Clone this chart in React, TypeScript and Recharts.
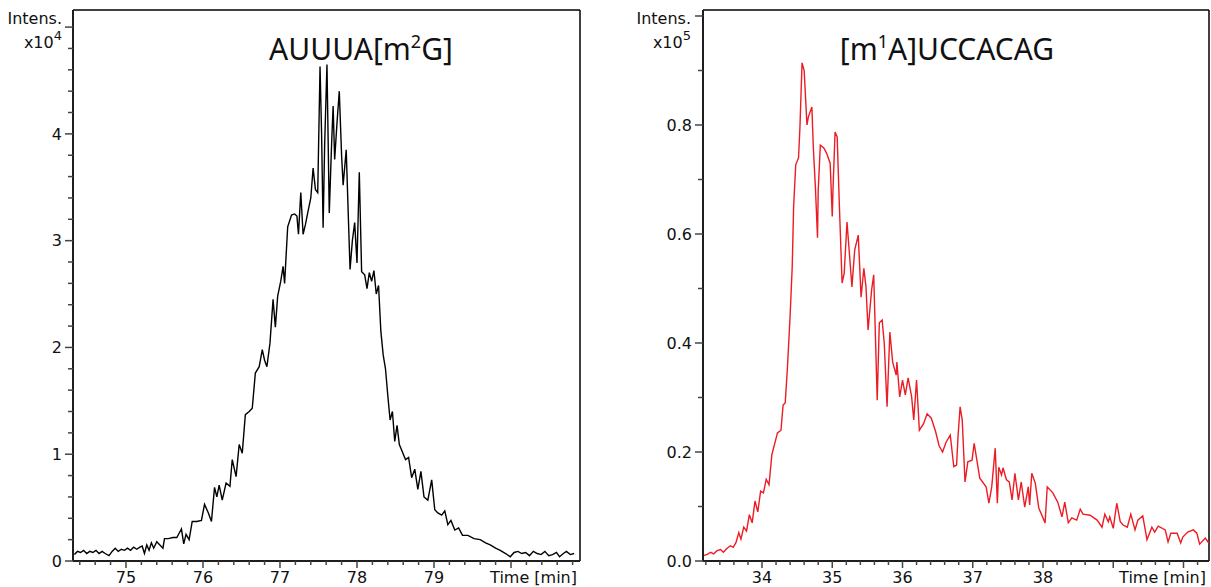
import React from 'react';
import { LineChart, Line, XAxis, YAxis, ReferenceLine } from 'recharts';

// time [min], intensity [x10^4]
const leftTrace: [number, number][] = [
  [74.33, 0.06], [74.37, 0.09], [74.41, 0.08], [74.45, 0.1], [74.49, 0.07], [74.53, 0.09], [74.57, 0.08],
  [74.61, 0.1], [74.65, 0.07], [74.69, 0.09], [74.73, 0.07], [74.78, 0.05], [74.82, 0.09], [74.86, 0.12],
  [74.9, 0.09], [74.94, 0.11], [74.98, 0.1], [75.02, 0.12], [75.06, 0.1], [75.1, 0.13], [75.14, 0.11],
  [75.18, 0.13], [75.21, 0.14], [75.24, 0.07], [75.27, 0.15], [75.3, 0.1], [75.33, 0.17], [75.36, 0.12],
  [75.4, 0.18], [75.44, 0.15], [75.48, 0.12], [75.5, 0.21], [75.55, 0.21], [75.61, 0.22], [75.66, 0.22],
  [75.69, 0.26], [75.72, 0.3], [75.75, 0.16], [75.78, 0.25], [75.82, 0.2], [75.86, 0.37], [75.92, 0.37],
  [75.98, 0.38], [76.02, 0.53], [76.07, 0.45], [76.11, 0.37], [76.15, 0.69], [76.18, 0.6], [76.21, 0.71],
  [76.25, 0.57], [76.3, 0.73], [76.35, 0.7], [76.38, 0.95], [76.43, 0.79], [76.47, 1.09], [76.51, 1.01],
  [76.55, 1.37], [76.6, 1.4], [76.64, 1.43], [76.68, 1.76], [76.73, 1.82], [76.77, 1.98], [76.8, 1.88],
  [76.83, 1.82], [76.87, 2.04], [76.91, 2.45], [76.94, 2.19], [76.97, 2.48], [77.01, 2.62], [77.04, 2.76],
  [77.06, 2.6], [77.1, 3.13], [77.15, 3.24], [77.19, 3.25], [77.22, 3.23], [77.24, 3.06], [77.27, 3.45],
  [77.3, 3.06], [77.33, 3.15], [77.36, 3.26], [77.4, 3.4], [77.43, 3.68], [77.46, 3.48], [77.49, 3.45],
  [77.52, 4.63], [77.54, 4.01], [77.56, 3.12], [77.58, 3.9], [77.61, 4.65], [77.64, 3.26], [77.67, 3.9],
  [77.69, 4.26], [77.71, 3.76], [77.74, 4.1], [77.77, 4.4], [77.8, 3.8], [77.82, 3.52], [77.86, 3.85],
  [77.89, 3.17], [77.91, 2.73], [77.94, 3.0], [77.97, 3.17], [78.0, 2.79], [78.03, 3.64], [78.06, 2.71],
  [78.1, 2.68], [78.13, 2.55], [78.16, 2.7], [78.19, 2.62], [78.22, 2.72], [78.25, 2.5], [78.28, 2.58],
  [78.31, 2.15], [78.34, 1.93], [78.37, 1.8], [78.4, 1.55], [78.43, 1.32], [78.46, 1.4], [78.49, 1.12],
  [78.52, 1.27], [78.55, 1.09], [78.59, 1.02], [78.63, 0.95], [78.67, 0.97], [78.71, 0.78], [78.75, 0.86],
  [78.79, 0.67], [78.83, 0.84], [78.87, 0.6], [78.92, 0.57], [78.97, 0.76], [79.01, 0.48], [79.05, 0.45],
  [79.1, 0.43], [79.14, 0.47], [79.18, 0.34], [79.22, 0.38], [79.27, 0.29], [79.32, 0.31], [79.37, 0.24],
  [79.44, 0.24], [79.52, 0.21], [79.6, 0.2], [79.67, 0.17], [79.73, 0.15], [79.8, 0.12], [79.86, 0.1],
  [79.93, 0.07], [79.99, 0.04], [80.04, 0.08], [80.09, 0.09], [80.14, 0.07], [80.19, 0.08], [80.24, 0.05],
  [80.29, 0.09], [80.34, 0.07], [80.39, 0.06], [80.44, 0.09], [80.49, 0.05], [80.54, 0.06], [80.59, 0.08],
  [80.63, 0.04], [80.68, 0.07], [80.72, 0.09], [80.77, 0.06], [80.82, 0.07],
];

// time [min], intensity [x10^5]
const rightTrace: [number, number][] = [
  [33.17, 0.01], [33.22, 0.012], [33.27, 0.016], [33.31, 0.013], [33.36, 0.019], [33.41, 0.021],
  [33.45, 0.016], [33.5, 0.023], [33.55, 0.028], [33.59, 0.025], [33.63, 0.034], [33.67, 0.052],
  [33.7, 0.04], [33.74, 0.062], [33.78, 0.055], [33.82, 0.085], [33.86, 0.07], [33.9, 0.11], [33.94, 0.09],
  [33.98, 0.128], [34.02, 0.125], [34.06, 0.15], [34.1, 0.14], [34.14, 0.195], [34.18, 0.215], [34.22, 0.235],
  [34.27, 0.24], [34.3, 0.286], [34.33, 0.29], [34.36, 0.35], [34.4, 0.45], [34.43, 0.54], [34.45, 0.65],
  [34.48, 0.727], [34.52, 0.74], [34.54, 0.796], [34.57, 0.914], [34.6, 0.9], [34.64, 0.8], [34.66, 0.815],
  [34.71, 0.833], [34.73, 0.76], [34.76, 0.686], [34.79, 0.593], [34.8, 0.68], [34.83, 0.763], [34.88, 0.758],
  [34.92, 0.748], [34.97, 0.73], [35.0, 0.632], [35.01, 0.68], [35.04, 0.787], [35.07, 0.778], [35.1, 0.657],
  [35.14, 0.51], [35.17, 0.528], [35.21, 0.622], [35.24, 0.571], [35.28, 0.503], [35.32, 0.571], [35.37, 0.598],
  [35.41, 0.484], [35.45, 0.537], [35.48, 0.503], [35.51, 0.424], [35.56, 0.497], [35.59, 0.525], [35.64, 0.295],
  [35.67, 0.437], [35.71, 0.442], [35.74, 0.4], [35.78, 0.283], [35.82, 0.42], [35.86, 0.365], [35.91, 0.341],
  [35.92, 0.365], [35.96, 0.301], [36.0, 0.332], [36.04, 0.305], [36.08, 0.336], [36.13, 0.301], [36.16, 0.259],
  [36.2, 0.332], [36.24, 0.24], [36.3, 0.252], [36.35, 0.27], [36.41, 0.262], [36.47, 0.238], [36.52, 0.212],
  [36.57, 0.2], [36.62, 0.218], [36.68, 0.231], [36.73, 0.173], [36.77, 0.176], [36.79, 0.228], [36.82, 0.283],
  [36.85, 0.259], [36.89, 0.145], [36.93, 0.182], [36.99, 0.185], [37.02, 0.216], [37.1, 0.152], [37.19, 0.136],
  [37.23, 0.106], [37.27, 0.136], [37.32, 0.207], [37.35, 0.106], [37.37, 0.172], [37.41, 0.158], [37.43, 0.171],
  [37.48, 0.149], [37.52, 0.145], [37.56, 0.112], [37.6, 0.161], [37.65, 0.112], [37.69, 0.145], [37.74, 0.099],
  [37.79, 0.136], [37.81, 0.103], [37.84, 0.161], [37.89, 0.143], [37.94, 0.097], [38.03, 0.07], [38.06, 0.136],
  [38.14, 0.125], [38.21, 0.108], [38.27, 0.081], [38.31, 0.108], [38.36, 0.07], [38.41, 0.079], [38.48, 0.075],
  [38.53, 0.095], [38.57, 0.086], [38.67, 0.084], [38.77, 0.075], [38.84, 0.062], [38.88, 0.086], [38.93, 0.072],
  [38.95, 0.081], [39.0, 0.06], [39.05, 0.106], [39.1, 0.072], [39.14, 0.066], [39.2, 0.062], [39.25, 0.086],
  [39.31, 0.057], [39.35, 0.075], [39.42, 0.083], [39.48, 0.039], [39.55, 0.062], [39.59, 0.053], [39.64, 0.064],
  [39.74, 0.057], [39.78, 0.035], [39.82, 0.051], [39.91, 0.051], [39.96, 0.033], [39.99, 0.044], [40.06, 0.053],
  [40.14, 0.057], [40.19, 0.051], [40.23, 0.031], [40.31, 0.042], [40.36, 0.033],
];

const leftXTicks = [
  74.4, 74.6, 74.8, 75, 75.2, 75.4, 75.6, 75.8, 76, 76.2, 76.4, 76.6, 76.8, 77, 77.2, 77.4, 77.6,
  77.8, 78, 78.2, 78.4, 78.6, 78.8, 79, 79.2, 79.4, 79.6, 79.8, 80, 80.2, 80.4, 80.6, 80.8,
];
const leftXMajor = [75, 76, 77, 78, 79, 80];
const leftXLabels: [number, string][] = [[75, '75'], [76, '76'], [77, '77'], [78, '78'], [79, '79']];

const leftYTicks = [
  0, 0.2, 0.4, 0.6, 0.8, 1, 1.2, 1.4, 1.6, 1.8, 2, 2.2, 2.4, 2.6, 2.8, 3, 3.2, 3.4, 3.6, 3.8, 4, 4.2,
  4.4, 4.6, 4.8, 5,
];
const leftYMajor = [0, 1, 2, 3, 4, 5];
const leftYLabels: [number, string][] = [[0, '0'], [1, '1'], [2, '2'], [3, '3'], [4, '4']];

const rightXTicks = [
  33.2, 33.4, 33.6, 33.8, 34, 34.2, 34.4, 34.6, 34.8, 35, 35.2, 35.4, 35.6, 35.8, 36, 36.2, 36.4, 36.6,
  36.8, 37, 37.2, 37.4, 37.6, 37.8, 38, 38.2, 38.4, 38.6, 38.8, 39, 39.2, 39.4, 39.6, 39.8, 40, 40.2,
];
const rightXMajor = [34, 35, 36, 37, 38, 39, 40];
const rightXLabels: [number, string][] = [[34, '34'], [35, '35'], [36, '36'], [37, '37'], [38, '38']];

const rightYTicks = [0, 0.1, 0.2, 0.3, 0.4, 0.5, 0.6, 0.7, 0.8, 0.9, 1.0];
const rightYMajor = [0, 0.2, 0.4, 0.6, 0.8, 1.0];
const rightYLabels: [number, string][] = [[0, '0.0'], [0.2, '0.2'], [0.4, '0.4'], [0.6, '0.6'], [0.8, '0.8']];

const leftData = leftTrace.map(([t, v]) => ({ t, v }));
const rightData = rightTrace.map(([t, v]) => ({ t, v }));

const FONT = '"DejaVu Sans", Verdana, sans-serif';
const TITLE_FONT = '"Noto Sans", sans-serif';
const AXIS = '#1e1e1e';

const near = (a: number, b: number) => Math.abs(a - b) < 1e-6;

function BottomTick(props: any) {
  const { x, y, payload, majors, labels } = props;
  const v = payload.value;
  const major = majors.some((m: number) => near(m, v));
  const lab = labels.find(([m]: [number, string]) => near(m, v));
  return (
    <g>
      <line x1={x} x2={x} y1={y} y2={y + (major ? 7 : 4)} stroke="#444" strokeWidth={1.5} />
      {lab && (
        <text x={x} y={y + 22} textAnchor="middle" fontSize={16} fontFamily={FONT} fill="#111">
          {lab[1]}
        </text>
      )}
    </g>
  );
}

function LeftTick(props: any) {
  const { x, y, payload, majors, labels } = props;
  const v = payload.value;
  const major = majors.some((m: number) => near(m, v));
  const lab = labels.find(([m]: [number, string]) => near(m, v));
  return (
    <g>
      <line x1={x - (major ? 8 : 5)} x2={x} y1={y} y2={y} stroke="#444" strokeWidth={1.5} />
      {lab && (
        <text x={x - 11} y={y} dy="0.36em" textAnchor="end" fontSize={16} fontFamily={FONT} fill="#111">
          {lab[1]}
        </text>
      )}
    </g>
  );
}

type PanelProps = {
  data: { t: number; v: number }[];
  width: number;
  yWidth: number;
  right: number;
  xDomain: [number, number];
  yDomain: [number, number];
  xTicks: number[];
  xMajor: number[];
  xLabels: [number, string][];
  yTicks: number[];
  yMajor: number[];
  yLabels: [number, string][];
  color: string;
};

function Panel(p: PanelProps) {
  return (
    <LineChart width={p.width} height={587} data={p.data} margin={{ top: 10, right: p.right, bottom: 0, left: 0 }}>
      <XAxis
        dataKey="t"
        type="number"
        domain={p.xDomain}
        allowDataOverflow
        ticks={p.xTicks}
        interval={0}
        height={26}
        tickSize={0}
        tickMargin={0}
        tickLine={false}
        axisLine={{ stroke: AXIS, strokeWidth: 2 }}
        tick={(tp: any) => <BottomTick {...tp} majors={p.xMajor} labels={p.xLabels} />}
      />
      <YAxis
        type="number"
        domain={p.yDomain}
        allowDataOverflow
        ticks={p.yTicks}
        interval={0}
        width={p.yWidth}
        tickSize={0}
        tickMargin={0}
        tickLine={false}
        axisLine={{ stroke: AXIS, strokeWidth: 2 }}
        tick={(tp: any) => <LeftTick {...tp} majors={p.yMajor} labels={p.yLabels} />}
      />
      {/* frame: top and right borders */}
      <ReferenceLine y={p.yDomain[1]} stroke="#000" strokeWidth={1.5} ifOverflow="visible" />
      <ReferenceLine x={p.xDomain[1]} stroke="#000" strokeWidth={1.5} ifOverflow="visible" />
      <Line
        type="linear"
        dataKey="v"
        stroke={p.color}
        strokeWidth={1.4}
        dot={false}
        isAnimationActive={false}
      />
    </LineChart>
  );
}

export default function App() {
  return (
    <div style={{ position: 'absolute', left: 0, top: 0, width: 1211, height: 587, background: '#fff' }}>
      <div style={{ position: 'absolute', left: 0, top: 0 }}>
        <Panel
          data={leftData}
          width={600}
          yWidth={73}
          right={20}
          xDomain={[74.312, 80.896]}
          yDomain={[0, 5.16]}
          xTicks={leftXTicks}
          xMajor={leftXMajor}
          xLabels={leftXLabels}
          yTicks={leftYTicks}
          yMajor={leftYMajor}
          yLabels={leftYLabels}
          color="#000"
        />
      </div>
      <div style={{ position: 'absolute', left: 620, top: 0 }}>
        <Panel
          data={rightData}
          width={591}
          yWidth={83}
          right={2}
          xDomain={[33.16, 40.363]}
          yDomain={[0, 1.011]}
          xTicks={rightXTicks}
          xMajor={rightXMajor}
          xLabels={rightXLabels}
          yTicks={rightYTicks}
          yMajor={rightYMajor}
          yLabels={rightYLabels}
          color="#ec1c24"
        />
      </div>
      <svg
        width={1211}
        height={587}
        style={{ position: 'absolute', left: 0, top: 0, pointerEvents: 'none' }}
        fontFamily={FONT}
        fill="#111"
      >
        <text x={62} y={24} textAnchor="end" fontSize={16}>Intens.</text>
        <text x={62} y={48} textAnchor="end" fontSize={16}>
          x10<tspan dy={-8} fontSize={13}>4</tspan>
        </text>
        <text x={691} y={24} textAnchor="end" fontSize={16}>Intens.</text>
        <text x={691} y={48} textAnchor="end" fontSize={16}>
          x10<tspan dy={-8} fontSize={13}>5</tspan>
        </text>
        <text x={577} y={583} textAnchor="end" fontSize={16}>Time [min]</text>
        <text x={1206} y={583} textAnchor="end" fontSize={16}>Time [min]</text>
        <text x={361} y={60} textAnchor="middle" fontSize={30} fontFamily={TITLE_FONT}>
          AUUUA[m<tspan dy={-12} fontSize={18}>2</tspan>
          <tspan dy={12}>G]</tspan>
        </text>
        <text x={947} y={60} textAnchor="middle" fontSize={30} fontFamily={TITLE_FONT}>
          [m<tspan dy={-12} fontSize={18}>1</tspan>
          <tspan dy={12}>A]UCCACAG</tspan>
        </text>
      </svg>
    </div>
  );
}
